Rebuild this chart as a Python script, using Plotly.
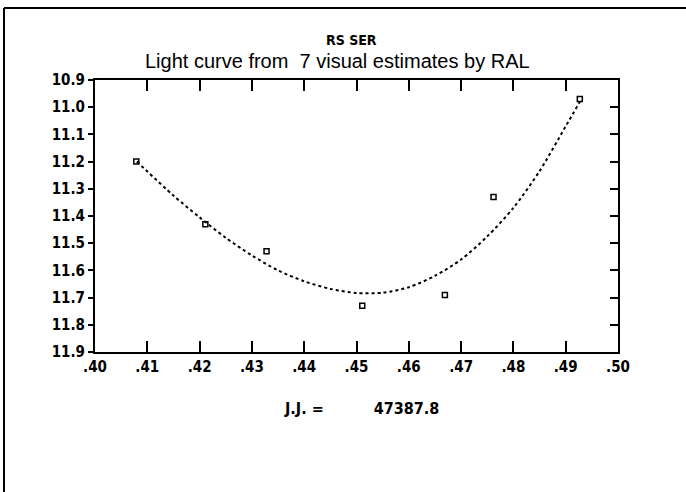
import plotly.graph_objects as go

# observations (fractional J.D. and visual magnitude)
obs_x = [0.4079, 0.4211, 0.4328, 0.4511, 0.4669, 0.4762, 0.4927]
obs_mag = [11.20, 11.43, 11.53, 11.73, 11.69, 11.33, 10.97]

# fitted light curve
fit_x = [0.408, 0.415, 0.420, 0.425, 0.430, 0.435, 0.440, 0.445, 0.450,
         0.455, 0.460, 0.465, 0.470, 0.475, 0.480, 0.485, 0.490, 0.493]
fit_mag = [11.20, 11.325, 11.405, 11.48, 11.545, 11.60, 11.64, 11.668, 11.683,
           11.682, 11.662, 11.62, 11.56, 11.475, 11.37, 11.235, 11.07, 10.97]

x_ticks = [0.40, 0.41, 0.42, 0.43, 0.44, 0.45, 0.46, 0.47, 0.48, 0.49, 0.50]
x_labels = [".40", ".41", ".42", ".43", ".44", ".45", ".46", ".47", ".48", ".49", ".50"]
y_ticks = [10.9, 11.0, 11.1, 11.2, 11.3, 11.4, 11.5, 11.6, 11.7, 11.8, 11.9]
y_labels = ["10.9", "11.0", "11.1", "11.2", "11.3", "11.4", "11.5", "11.6", "11.7", "11.8", "11.9"]

title1 = "RS SER"
title2 = "Light curve from  7 visual estimates by RAL"
jd_text = "J.J. =          47387.8"

cond = "DejaVu Sans Condensed, Liberation Sans Narrow, sans-serif"
tickfont = dict(family=cond, size=15, color="black", weight="bold")

fig = go.Figure()
fig.add_trace(go.Scatter(x=fit_x, y=fit_mag, mode="lines",
                         line=dict(color="black", width=2, dash="dot", shape="spline", smoothing=0.8),
                         hoverinfo="skip", showlegend=False))
fig.add_trace(go.Scatter(x=obs_x, y=obs_mag, mode="markers",
                         marker=dict(symbol="square-open", size=5, color="black", line=dict(width=1.5, color="black")),
                         showlegend=False))
# invisible trace to activate the right-hand axis (inward ticks)
fig.add_trace(go.Scatter(x=[None], y=[None], yaxis="y2", showlegend=False, hoverinfo="skip"))

fig.update_layout(
    width=686, height=492,
    margin=dict(l=95, r=68, t=80, b=140),
    paper_bgcolor="white", plot_bgcolor="white",
    xaxis=dict(range=[0.40, 0.50], tickvals=x_ticks, ticktext=x_labels, showgrid=False, zeroline=False,
               showline=True, linecolor="black", linewidth=2, mirror="ticks", ticks="inside", ticklen=11,
               tickwidth=2, tickcolor="black", tickfont=tickfont),
    yaxis=dict(range=[11.9, 10.9], tickvals=y_ticks, ticktext=y_labels, showgrid=False, zeroline=False,
               showline=True, linecolor="black", linewidth=2, ticks="outside", ticklen=5,
               tickwidth=2, tickcolor="black", tickfont=tickfont),
    yaxis2=dict(range=[11.9, 10.9], tickvals=y_ticks, overlaying="y", side="right", showticklabels=False,
                showgrid=False, zeroline=False, showline=True, linecolor="black", linewidth=2,
                ticks="inside", ticklen=8, tickwidth=2, tickcolor="black"),
    annotations=[
        dict(text=title1, xref="paper", yref="paper", x=0.49, y=1.147, xanchor="center", yanchor="middle",
             showarrow=False, font=dict(family=cond, size=14, color="black", weight="bold")),
        dict(text=title2, xref="paper", yref="paper", x=0.463, y=1.07, xanchor="center", yanchor="middle",
             showarrow=False, font=dict(family="Liberation Sans, Arial, sans-serif", size=20, color="black")),
        dict(text=jd_text, xref="paper", yref="paper", x=0.51, y=-0.206, xanchor="center", yanchor="middle",
             showarrow=False, font=dict(family=cond, size=16, color="black", weight="bold")),
    ],
    shapes=[
        dict(type="line", xref="paper", yref="paper", x0=-0.174, x1=1.3, y0=1.265, y1=1.265,
             line=dict(color="black", width=2)),
        dict(type="line", xref="paper", yref="paper", x0=-0.174, x1=-0.174, y0=-0.6, y1=1.265,
             line=dict(color="black", width=2)),
    ],
)

fig.write_html("out.html", config={"displayModeBar": False},
               post_script="document.body.style.margin='0';")
